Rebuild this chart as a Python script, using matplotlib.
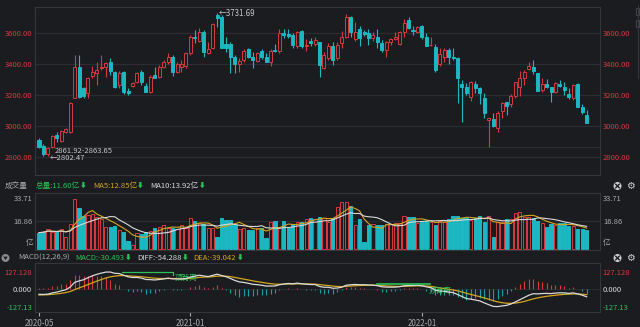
import numpy as np
import pandas as pd
import matplotlib
matplotlib.use("Agg")
import matplotlib.pyplot as plt
from matplotlib.patches import Rectangle, Ellipse, Polygon
from matplotlib.lines import Line2D

plt.rcParams['font.family'] = ['Noto Sans CJK SC', 'DejaVu Sans']

# weekly bars, oldest first (first week of May 2020 onwards)
opens = [2908, 2869, 2815, 2865, 2941, 2902, 2958, 2962, 3183, 3379,
         3243, 3211, 3323, 3341, 3373, 3384, 3416, 3347, 3265, 3347,
         3228, 3258, 3287, 3351, 3261, 3217, 3330, 3319, 3380, 3416,
         3449, 3347, 3384, 3390, 3470, 3578, 3550, 3606, 3474, 3507,
         3719, 3708, 3529, 3529, 3449, 3403, 3427, 3496, 3449, 3420,
         3485, 3449, 3416, 3492, 3485, 3600, 3596, 3589, 3514, 3615,
         3520, 3550, 3528, 3542, 3377, 3438, 3520, 3438, 3535, 3578,
         3704, 3561, 3628, 3611, 3604, 3568, 3578, 3535, 3492, 3542,
         3561, 3528, 3611, 3686, 3622, 3611, 3650, 3574, 3522, 3509,
         3399, 3449, 3492, 3449, 3442, 3271, 3254, 3189, 3271, 3243,
         3183, 3038, 3044, 2984, 3096, 3152, 3139, 3196, 3254, 3312,
         3366, 3384, 3340, 3232, 3271, 3250, 3217, 3269, 3254, 3206,
         3178, 3271, 3120, 3070]
highs = [2919, 2880, 2865, 2941, 2958, 2973, 2984, 3157, 3459, 3459,
         3254, 3319, 3390, 3412, 3459, 3416, 3442, 3356, 3356, 3356,
         3243, 3282, 3351, 3362, 3276, 3330, 3384, 3395, 3427, 3470,
         3459, 3412, 3427, 3481, 3589, 3622, 3637, 3622, 3542, 3665,
         3731.69, 3719, 3578, 3542, 3459, 3438, 3496, 3503, 3481, 3481,
         3499, 3470, 3496, 3528, 3628, 3628, 3628, 3600, 3615, 3622,
         3561, 3567, 3574, 3546, 3481, 3535, 3542, 3542, 3615, 3723,
         3712, 3676, 3650, 3622, 3628, 3611, 3628, 3557, 3550, 3572,
         3606, 3615, 3691, 3708, 3650, 3647, 3654, 3600, 3578, 3528,
         3503, 3507, 3503, 3503, 3449, 3297, 3276, 3291, 3291, 3254,
         3211, 3053, 3081, 3096, 3157, 3157, 3204, 3286, 3356, 3362,
         3416, 3427, 3345, 3308, 3304, 3254, 3282, 3297, 3282, 3243,
         3269, 3280, 3139, 3103]
lows = [2859, 2807, 2802.47, 2858, 2897, 2893, 2951, 2951, 3178, 3178,
        3183, 3178, 3312, 3265, 3362, 3319, 3330, 3243, 3248, 3204,
        3200, 3254, 3276, 3265, 3217, 3211, 3308, 3312, 3373, 3399,
        3325, 3340, 3351, 3377, 3459, 3535, 3542, 3449, 3466, 3498,
        3643, 3503, 3481, 3340, 3340, 3351, 3412, 3442, 3373, 3412,
        3434, 3412, 3390, 3481, 3470, 3568, 3568, 3503, 3507, 3507,
        3488, 3514, 3514, 3315, 3369, 3427, 3395, 3427, 3503, 3568,
        3578, 3550, 3520, 3585, 3524, 3550, 3503, 3481, 3449, 3524,
        3557, 3524, 3578, 3628, 3589, 3600, 3563, 3514, 3518, 3351,
        3388, 3416, 3399, 3427, 3146, 3027, 3200, 3161, 3211, 3139,
        3049, 2863.65, 2995, 2958, 3049, 3070, 3124, 3183, 3196, 3265,
        3362, 3334, 3226, 3222, 3243, 3157, 3211, 3254, 3200, 3174,
        3167, 3120, 3075, 3020]
closes = [2865, 2815, 2854, 2934, 2919, 2967, 2977, 3150, 3379, 3189,
          3196, 3312, 3351, 3362, 3384, 3405, 3358, 3254, 3340, 3222,
          3211, 3276, 3340, 3287, 3222, 3319, 3308, 3384, 3412, 3449,
          3347, 3399, 3399, 3474, 3574, 3567, 3606, 3481, 3496, 3658,
          3697, 3507, 3503, 3449, 3399, 3420, 3485, 3449, 3427, 3470,
          3449, 3416, 3485, 3485, 3600, 3589, 3585, 3524, 3611, 3514,
          3526, 3535, 3557, 3395, 3459, 3520, 3427, 3524, 3578, 3704,
          3611, 3611, 3568, 3593, 3572, 3589, 3542, 3492, 3542, 3563,
          3574, 3611, 3665, 3632, 3617, 3643, 3578, 3520, 3525, 3362,
          3464, 3492, 3449, 3442, 3308, 3250, 3211, 3282, 3243, 3211,
          3081, 3049, 3001, 3085, 3146, 3131, 3196, 3282, 3312, 3347,
          3386, 3358, 3228, 3269, 3254, 3222, 3276, 3258, 3232, 3187,
          3265, 3124, 3091, 3020.2]
# weekly volume, 亿
volumes = [10.0, 10.6, 12.3, 10.5, 10.2, 12.3, 7.6, 15.1, 30.6, 24.9,
           20.4, 20.8, 21.2, 19.8, 18.4, 13.7, 13.7, 14.3, 11.6, 10.2,
           4.9, 2.5, 9.6, 9.0, 10.2, 11.0, 12.7, 13.7, 14.7, 13.1,
           13.1, 12.1, 14.7, 13.1, 18.8, 17.2, 15.7, 15.1, 12.7, 12.7,
           7.6, 19.2, 17.8, 17.8, 14.7, 12.3, 12.7, 11.6, 11.6, 12.7,
           12.7, 6.5, 16.3, 17.2, 13.1, 17.2, 12.7, 15.1, 16.8, 16.8,
           18.4, 18.8, 18.4, 19.8, 19.2, 16.8, 19.2, 25.9, 28.6, 28.6,
           26.4, 14.7, 18.4, 4.1, 14.7, 15.1, 14.7, 14.7, 15.1, 15.1,
           15.7, 15.7, 20.4, 19.8, 19.8, 16.1, 16.3, 17.2, 16.8, 14.7,
           17.2, 16.8, 18.4, 20.4, 20.4, 18.8, 19.2, 17.8, 18.8, 20.4,
           16.8, 20.4, 7.6, 16.8, 16.8, 18.4, 18.4, 21.9, 22.9, 19.8,
           19.8, 18.8, 17.2, 15.7, 13.7, 15.1, 14.7, 15.75, 15.7, 14.2,
           14.2, 12.2, 12.05, 11.60]

date_labels = ["2020-05", "2021-01", "2022-01"]
date_ticks = [0, 34, 86]
price_levels = [3600, 3400, 3200, 3000, 2800]
vol_top = 33.71
vol_mid = 16.86
macd_levels = [127.128, 0, -127.128]
macd_level_labels = ["127.128", "0.000", "-127.13"]
# MACD state carried in from the weeks before the window
diff_start = -36.0
dea_start = -41.0

BG = "#1b1c20"
GRID = "#2b2d32"
FRAME = "#33363b"
RED = "#d63a3f"
CYAN = "#1db7c2"
GREEN = "#2bc257"
YELLOW = "#d4a51f"
WHITE = "#d9d9d9"
GRAY = "#a9a9a9"
FS = 5.5

W, H = 640, 327
fig = plt.figure(figsize=(W / 100, H / 100), dpi=100, facecolor=BG)
renderer = fig.canvas.get_renderer()


def panel(x0, y0, x1, y1):
    ax = fig.add_axes([x0 / W, 1 - y1 / H, (x1 - x0) / W, (y1 - y0) / H])
    ax.set_facecolor(BG)
    for s in ax.spines.values():
        s.set_color(FRAME)
        s.set_linewidth(0.8)
    ax.set_xlim(-0.9, 126)
    ax.tick_params(length=0, labelbottom=False, labelleft=False)
    return ax


def ftext(x, y, s, **kw):
    kw.setdefault("va", "center")
    kw.setdefault("fontsize", FS)
    return fig.text(x / W, 1 - y / H, s, **kw)


def chain(x, y, parts):
    # lay out header pieces left to right, each after the previous one
    for s, col, gap, size in parts:
        t = ftext(x, y, s, color=col, fontsize=size)
        x = t.get_window_extent(renderer).x1 + gap


def dot(cx, cy, r, color):
    fig.add_artist(Ellipse((cx / W, 1 - cy / H), 2 * r / W, 2 * r / H,
                           facecolor=color, edgecolor="none"))


o = np.array(opens, float)
h = np.array(highs, float)
l = np.array(lows, float)
c = np.array(closes, float)
v = np.array(volumes, float)
x = np.arange(len(c))
up = c >= o
bar_col = np.where(up, RED, CYAN)

# ---- price panel ----
ax = panel(35, 7, 600, 175)
ax.set_ylim(2681, 3770)
ax.set_yticks(price_levels)
ax.set_yticklabels([f"{p:.2f}" for p in price_levels])
ax.tick_params(axis="y", labelleft=True, labelright=True, colors=RED,
               labelsize=FS, pad=2)
for p in price_levels:
    ax.axhline(p, color=GRID, lw=0.9, zorder=0)
ax.axhline(2863.65, color=GRID, lw=0.9, zorder=0)

ax.vlines(x, l, h, colors=bar_col, lw=0.8, zorder=2)
for xi, oi, ci, u in zip(x, o, c, up):
    lo = min(oi, ci)
    ht = max(abs(ci - oi), 2.5)
    ax.add_patch(Rectangle((xi - 0.34, lo), 0.68, ht,
                           facecolor=BG if u else CYAN,
                           edgecolor=RED if u else CYAN, lw=0.7, zorder=3))

i_hi = int(np.argmax(h))
i_lo = int(np.argmin(l))
ax.text(i_hi + 0.4, h[i_hi] - 6, f"←{h[i_hi]:.2f}", color="#c8c8c8",
        fontsize=5.7, va="center", ha="left")
ax.text(i_lo + 0.3, l[i_lo] - 13, f"←{l[i_lo]:.2f}", color="#c8c8c8",
        fontsize=5.5, va="center", ha="left", zorder=5)
ax.text(i_lo + 1.6, 2839, "2861.92-2863.65", color="#c8c8c8",
        fontsize=5.5, va="center", ha="left", zorder=5)

# ---- volume panel ----
vol_ma5 = pd.Series(v).rolling(5, min_periods=1).mean()
vol_ma10 = pd.Series(v).rolling(10, min_periods=1).mean()

ftext(5, 186, "成交量", color=GRAY)
chain(35.5, 186, [(f"总量:{v[-1]:.2f}亿", GREEN, 0.5, FS),
                  ("⬇", GREEN, 6, 4.8),
                  (f"MA5:{vol_ma5.iloc[-1]:.2f}亿", YELLOW, 0.5, FS),
                  ("⬇", GREEN, 6, 4.8),
                  (f"MA10:{vol_ma10.iloc[-1]:.2f}亿", WHITE, 0.5, FS),
                  ("⬇", GREEN, 0, 4.8)])

axv = panel(35, 193, 600, 250)
axv.set_ylim(-0.61, 34.32)
axv.axhline(vol_mid, color=GRID, lw=0.9, zorder=0)
axv.bar(x, v, width=0.72, color=np.where(up, BG, CYAN), edgecolor=bar_col,
        lw=0.7, zorder=2)
axv.plot(x, vol_ma5, color=YELLOW, lw=0.8, zorder=3)
axv.plot(x, vol_ma10, color=WHITE, lw=0.8, zorder=3)
for lab, yy in [(f"{vol_top:.2f}", 199), (f"{vol_mid:.2f}", 221.7), ("亿", 243)]:
    ftext(33, yy, lab, color=GRAY, ha="right")
    ftext(603, yy, lab, color=GRAY, ha="left")

# ---- MACD panel ----
def ema(values, span, start):
    a = 2.0 / (span + 1)
    out = [start]
    for val in values[1:]:
        out.append(out[-1] + a * (val - out[-1]))
    return np.array(out)


ema12 = ema(c, 12, c[0])
ema26 = ema(c, 26, c[0] - diff_start)
diff = ema12 - ema26
dea = ema(diff, 9, dea_start)
macd = 2 * (diff - dea)

# collapse button in front of the indicator name
dot(5.5, 258, 4, "#8a8a8a")
fig.add_artist(Polygon([(3.3 / W, 1 - 256.6 / H), (7.7 / W, 1 - 256.6 / H),
                        (5.5 / W, 1 - 260 / H)], closed=True,
                       facecolor=BG, edgecolor="none"))
chain(18, 258, [("MACD(12,26,9)", GRAY, 6, FS),
                (f"MACD:{macd[-1]:.3f}", GREEN, 0.5, FS),
                ("⬇", GREEN, 5, 4.8),
                (f"DIFF:{diff[-1]:.3f}", WHITE, 0.5, FS),
                ("⬇", GREEN, 5, 4.8),
                (f"DEA:{dea[-1]:.3f}", YELLOW, 0.5, FS),
                ("⬇", GREEN, 0, 4.8)])

axm = panel(35, 263, 600, 312)
axm.set_ylim(-164, 190)
axm.axhline(0, color=GRID, lw=0.7, zorder=0)
axm.vlines(x, 0, macd, colors=np.where(macd >= 0, RED, "#1a9ea6"), lw=0.8,
           zorder=2)
axm.plot(x, dea, color=YELLOW, lw=0.9, zorder=3)
axm.plot(x, diff, color=WHITE, lw=0.9, zorder=4)
axm.set_yticks(macd_levels)
axm.set_yticklabels(macd_level_labels)
axm.tick_params(axis="y", labelleft=True, labelright=True, labelsize=FS,
                pad=2)
for tick, col in zip(axm.yaxis.get_major_ticks(), [RED, WHITE, GREEN]):
    tick.label1.set_color(col)
    tick.label2.set_color(col)

# divergence markers
axm.plot([18.6, 30.2, 30.2], [123, 123, 100], color=GREEN, lw=0.9, zorder=5)
axm.text(30.4, 82, "顶背离", color=GREEN, fontsize=FS, va="center")
axm.plot([75.9, 87.8], [36, 36], color=GREEN, lw=1.2, zorder=5)
axm.text(87.6, -10, "顶背离", color=GREEN, fontsize=FS, va="center")

axm.set_xticks(date_ticks)
axm.set_xticklabels(date_labels)
axm.tick_params(axis="x", labelbottom=True, length=3, color=GRAY,
                colors=GRAY, labelsize=5.8, pad=2)

# panel tool icons: close button and settings gear
for yy in (186, 258):
    dot(617.5, yy, 4, "#d0d0d0")
    for dx in (-1, 1):
        fig.add_artist(Line2D([(617.5 - 1.8) / W, (617.5 + 1.8) / W],
                              [1 - (yy - 1.8 * dx) / H, 1 - (yy + 1.8 * dx) / H],
                              color=BG, lw=1.0))
    ftext(630, yy, "⚙", color="#d0d0d0", fontsize=7, ha="center")

# side scroll strip
fig.add_artist(Line2D([637.5 / W] * 2, [1 - 5 / H, 1 - 78 / H],
                      color=FRAME, lw=0.8))
for y0 in (8, 20):
    fig.add_artist(Rectangle((636 / W, 1 - (y0 + 7) / H), 3 / W, 7 / H,
                             facecolor="none", edgecolor="#4a4d52", lw=0.6))

fig.savefig("out.png", dpi=100, facecolor=BG)
